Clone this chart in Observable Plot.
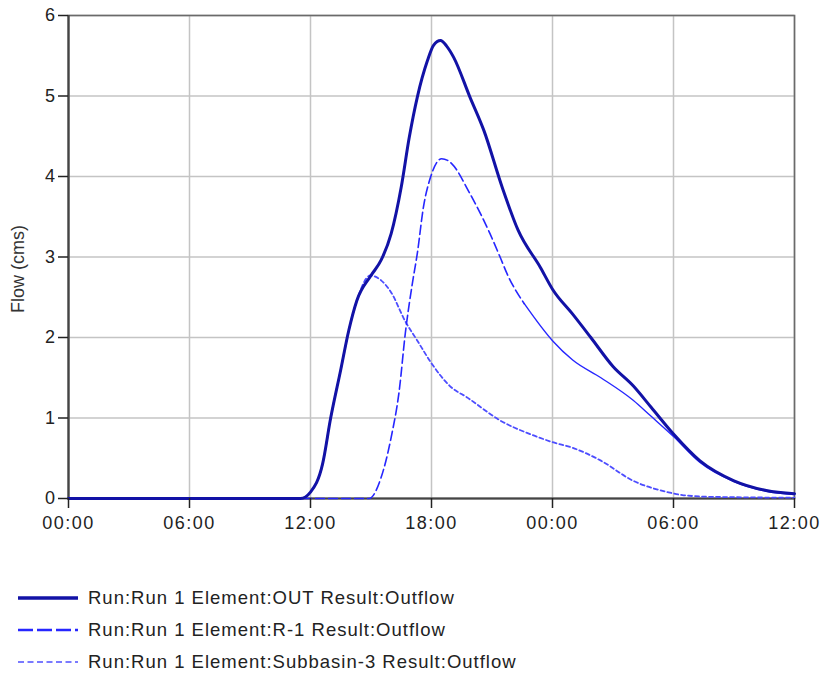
<!DOCTYPE html>
<html>
<head>
<meta charset="utf-8">
<script src="https://cdn.jsdelivr.net/npm/d3@7"></script>
<script src="https://cdn.jsdelivr.net/npm/@observablehq/plot@0.6"></script>
<style>
  html, body { margin: 0; padding: 0; background: #fff; }
  body { width: 826px; height: 673px; overflow: hidden; font-family: "Liberation Sans", Arial, sans-serif; }
  #legend { position: relative; height: 128px; }
  .row { position: absolute; left: 0; height: 32px; display: flex; align-items: center; }
  .row svg { margin-left: 18px; }
  .row span { margin-left: 10px; font-size: 18.5px; letter-spacing: 1px; color: #222; white-space: nowrap; }
  .hydro g[aria-label="x-axis tick label"] text { letter-spacing: 1.5px; }
  .hydro g[aria-label="y-axis tick label"] text { letter-spacing: 0.5px; }
</style>
</head>
<body>
<div id="chart"></div>
<div id="legend"></div>
<script>
// ---- Data (hours from start of run, flow in cms) ----
const xTicks = [0, 6, 12, 18, 24, 30, 36];
const xTickLabels = ["00:00", "06:00", "12:00", "18:00", "00:00", "06:00", "12:00"];
const yTicks = [0, 1, 2, 3, 4, 5, 6];

const outHours = [0, 11.5, 12.0, 12.6, 13.0, 13.5, 13.9, 14.3, 15.0, 15.5, 16.0, 16.5, 16.9, 17.3, 17.8, 18.1, 18.45, 18.75, 19.1, 19.9, 20.6, 21.5, 22.3, 23.4, 24.0, 25.0, 25.9, 27.0, 28.0, 28.9, 30.0, 31.3, 33.0, 34.6, 36];
const outFlow  = [0, 0, 0.08, 0.43, 1.0, 1.6, 2.09, 2.46, 2.77, 2.96, 3.29, 3.87, 4.49, 4.99, 5.44, 5.63, 5.69, 5.62, 5.48, 4.99, 4.57, 3.87, 3.33, 2.87, 2.6, 2.29, 2.0, 1.64, 1.4, 1.13, 0.8, 0.47, 0.22, 0.1, 0.06];

const r1Hours = [0, 14.9, 15.5, 16.0, 16.4, 16.7, 17.05, 17.3, 17.6, 17.95, 18.5, 18.8, 19.0, 19.9, 20.9, 21.4, 21.75, 22.6, 24.0, 25.0, 26.4, 28.0, 28.85, 30.0, 31.3, 33.0, 34.6, 36];
const r1Flow  = [0, 0, 0.26, 0.76, 1.34, 2.05, 2.67, 3.05, 3.62, 3.99, 4.22, 4.2, 4.16, 3.79, 3.29, 3.0, 2.79, 2.42, 1.96, 1.72, 1.5, 1.22, 1.03, 0.77, 0.45, 0.21, 0.09, 0.05];

const subHours = [0, 11.5, 12.0, 12.6, 13.0, 13.5, 13.9, 14.3, 14.97, 15.5, 16.0, 16.7, 17.3, 18.0, 18.9, 19.8, 21.4, 23.1, 24.0, 25.0, 26.4, 28.0, 29.7, 30.5, 32, 36];
const subFlow  = [0, 0, 0.08, 0.43, 1.0, 1.6, 2.09, 2.46, 2.77, 2.71, 2.56, 2.2, 1.96, 1.68, 1.4, 1.25, 0.97, 0.78, 0.7, 0.63, 0.47, 0.22, 0.08, 0.04, 0.02, 0.01];

const seriesNames = [
  "Run:Run 1 Element:OUT Result:Outflow",
  "Run:Run 1 Element:R-1 Result:Outflow",
  "Run:Run 1 Element:Subbasin-3 Result:Outflow"
];

// ---- Build tables ----
const outData = outHours.map((h, i) => ({h, v: outFlow[i]}));
const r1Data = r1Hours.map((h, i) => ({h, v: r1Flow[i]}));
const subData = subHours.map((h, i) => ({h, v: subFlow[i]}));
const r1DashEnd = 22.6;

const colors = {out: "#1212a6", r1: "#2626ff", sub: "#4d4dff"};

const chart = Plot.plot({
  className: "hydro",
  width: 826,
  height: 545,
  marginLeft: 68,
  marginRight: 32,
  marginTop: 15,
  marginBottom: 47,
  style: {fontFamily: "'Liberation Sans', Arial, sans-serif", fontSize: "18px", color: "#222", background: "#fff"},
  x: {domain: [0, 36], label: null},
  y: {domain: [0, 6], label: null},
  marks: [
    Plot.gridX(xTicks, {stroke: "#c4c4c4", strokeOpacity: 1, strokeWidth: 1.5}),
    Plot.gridY(yTicks, {stroke: "#c4c4c4", strokeOpacity: 1, strokeWidth: 1.5}),
    Plot.frame({stroke: "#6a6a6a", strokeWidth: 1.6}),
    Plot.ruleX([0], {stroke: "#444", strokeWidth: 2.2}),
    Plot.ruleY([0], {stroke: "#444", strokeWidth: 2.2}),
    Plot.line(subData, {x: "h", y: "v", stroke: colors.sub, strokeWidth: 1.8, strokeDasharray: "4,3", curve: "monotone-x"}),
    Plot.line(r1Data.filter(d => d.h <= r1DashEnd), {x: "h", y: "v", stroke: colors.r1, strokeWidth: 1.6, strokeDasharray: "9,4", curve: "monotone-x"}),
    Plot.line(r1Data.filter(d => d.h >= r1DashEnd), {x: "h", y: "v", stroke: colors.r1, strokeWidth: 1.4, curve: "monotone-x"}),
    Plot.line(outData, {x: "h", y: "v", stroke: colors.out, strokeWidth: 3, curve: "monotone-x"}),
    Plot.axisX({ticks: xTicks, tickFormat: (d) => xTickLabels[xTicks.indexOf(d)], tickSize: 10, tickPadding: 8, stroke: "#222", strokeWidth: 1.5, label: null}),
    Plot.axisY({ticks: yTicks, tickFormat: "d", tickSize: 10, tickPadding: 3, stroke: "#222", strokeWidth: 1.5, label: null}),
    Plot.text(["Flow (cms)"], {frameAnchor: "left", textAnchor: "middle", dx: -50, dy: 12, rotate: -90, fontSize: 18, fill: "#333"})
  ]
});
document.getElementById("chart").appendChild(chart);

// ---- Legend ----
const legendStyles = [
  {color: colors.out, width: 3.5, dash: null},
  {color: colors.r1, width: 2.5, dash: "15,4"},
  {color: "#7a7aff", width: 2, dash: "6,3.5"}
];
const legend = document.getElementById("legend");
seriesNames.forEach((name, i) => {
  const row = document.createElement("div");
  row.className = "row";
  row.style.top = (37 + i * 32) + "px";
  const s = legendStyles[i];
  row.innerHTML = `<svg width="60" height="10"><line x1="0" x2="60" y1="5" y2="5" stroke="${s.color}" stroke-width="${s.width}" ${s.dash ? `stroke-dasharray="${s.dash}"` : ""}/></svg><span>${name}</span>`;
  legend.appendChild(row);
});
</script>
</body>
</html>
